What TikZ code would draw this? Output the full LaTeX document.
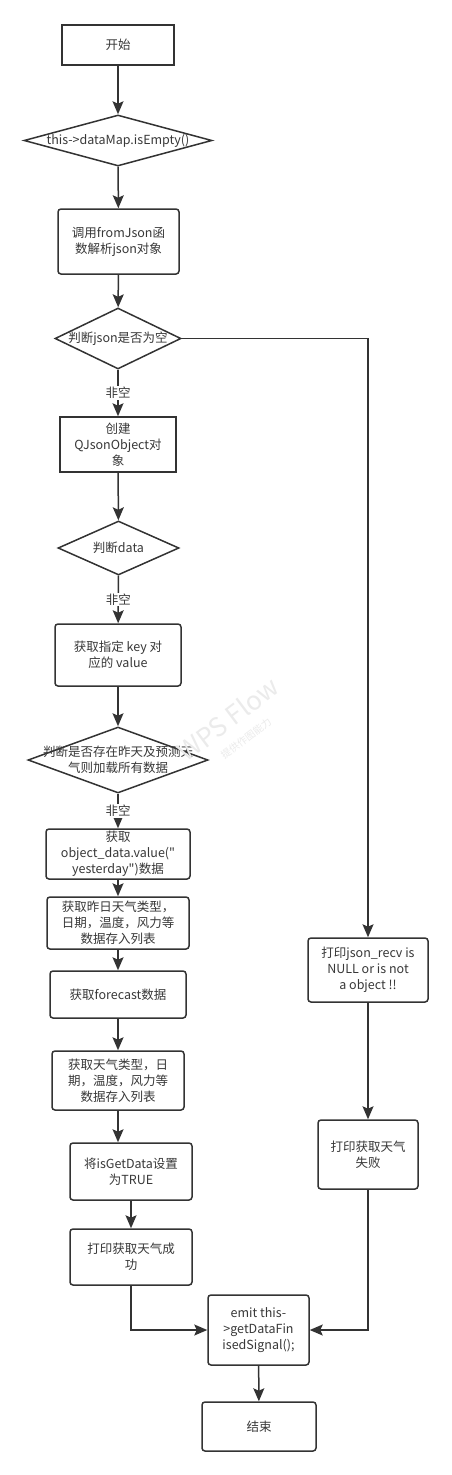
\documentclass[tikz,border=0pt]{standalone}
\usepackage{fontspec}
\newfontfamily\mf{Noto Sans CJK SC}
\setmainfont{Noto Sans CJK SC}
\usetikzlibrary{shapes.geometric,arrows.meta,positioning}
\definecolor{ln}{HTML}{333333}
\definecolor{tx}{HTML}{383838}
\tikzset{
  every node/.style={font=\mf\fontsize{12.5pt}{16pt}\selectfont, text=tx},
  proc/.style={draw=ln, line width=1.5pt, rounded corners=3pt, fill=white, align=center, inner sep=0pt},
  sharpbox/.style={draw=ln, line width=1.5pt, fill=white, align=center, inner sep=0pt},
  decide/.style={draw=ln, line width=1.5pt, diamond, fill=white, inner sep=0pt},
  dtext/.style={align=center, inner sep=0pt},
  flow/.style={draw=ln, line width=1.5pt, -{Stealth[length=13pt,width=11pt,inset=2.5pt]}},
  edgelabel/.style={fill=white, inner sep=1pt},
  wm/.style={text=black!8, rotate=37, inner sep=0pt}
}
\begin{document}
\begin{tikzpicture}[x=1pt,y=-1pt]
\useasboundingbox (0,0) rectangle (452,1475);
\fill[white] (0,0) rectangle (452,1475);

% main column
\node[sharpbox, minimum width=112pt, minimum height=40pt] (start) at (118,45) {开始};
\node[decide, minimum width=188pt, minimum height=51pt] (d1) at (118,140.5) {};
\node[dtext] (d1t) at (d1.center) {this->dataMap.isEmpty()};
\node[proc, minimum width=121pt, minimum height=65pt] (b1) at (118.5,241.5) {调用fromJson函\\数解析json对象};
\node[decide, minimum width=126pt, minimum height=61pt] (d2) at (118,338.5) {};
\node[dtext] (d2t) at (d2.center) {判断json是否为空};
\node[sharpbox, minimum width=116pt, minimum height=55pt] (b2) at (118,444.5) {创建\\QJsonObject对\\象};
\node[decide, minimum width=121pt, minimum height=54pt] (d3) at (118.5,548) {};
\node[dtext] (d3t) at (d3.center) {判断data};
\node[proc, minimum width=126pt, minimum height=62pt] (b3) at (118,655) {获取指定 key 对\\应的 value};
\node[decide, minimum width=180pt, minimum height=66pt] (d4) at (118,760) {};
\node[dtext] (d4t) at (d4.center) {判断是否存在昨天及预测天\\气则加载所有数据};
\node[proc, minimum width=144pt, minimum height=50pt] (b4) at (118,854) {获取\\object\_data.value("\\yesterday")数据};
\node[proc, minimum width=142pt, minimum height=52pt] (b5) at (118,923) {获取昨日天气类型，\\日期，温度，风力等\\数据存入列表};
\node[proc, minimum width=136pt, minimum height=47pt] (b6) at (118,994.5) {获取forecast数据};
\node[proc, minimum width=132pt, minimum height=59pt] (b7) at (118,1080.5) {获取天气类型，日\\期，温度，风力等\\数据存入列表};
\node[proc, minimum width=122pt, minimum height=57pt] (b8) at (131,1171.5) {将isGetData设置\\为TRUE};
\node[proc, minimum width=122pt, minimum height=56pt] (b9) at (131,1257) {打印获取天气成\\功};
\node[proc, minimum width=101pt, minimum height=70pt] (emit) at (258.5,1330) {emit this-\\>getDataFin\\isedSignal();};
\node[proc, minimum width=114pt, minimum height=49pt] (end) at (259,1426.5) {结束};

% right column
\node[proc, minimum width=120pt, minimum height=64pt] (r1) at (368,970) {打印json\_recv is\\NULL or is not\\a object !!};
\node[proc, minimum width=100pt, minimum height=69pt] (r2) at (368,1154.5) {打印获取天气\\失败};

% connectors
\draw[flow] (start) -- (d1);
\draw[flow] (d1) -- (b1);
\draw[flow] (b1) -- (d2);
\draw[flow] (d2) -- node[edgelabel] (l1) {非空} (b2);
\draw[flow] (b2) -- (d3);
\draw[flow] (d3) -- node[edgelabel] (l2) {非空} (b3);
\draw[flow] (b3) -- (d4);
\draw[flow] (d4) -- node[edgelabel] (l3) {非空} (b4);
\draw[flow] (b4) -- (b5);
\draw[flow] (b5) -- (b6);
\draw[flow] (b6) -- (b7);
\draw[flow] (b7.south) -- (b7.south |- b8.north);
\draw[flow] (b8) -- (b9);
\draw[flow] (b9.south) |- (emit.west);
\draw[flow] (d2.east) -| (r1.north);
\draw[flow] (r1) -- (r2);
\draw[flow] (r2.south) |- (emit.east);
\draw[flow] (emit) -- (end);

% watermark
\node[wm, font=\mf\fontsize{26pt}{26pt}\selectfont] (wm1) at (228,719) {WPS Flow};
\node[wm, font=\mf\fontsize{10pt}{10pt}\selectfont] (wm2) at (246,738) {提供作图能力};
\end{tikzpicture}
\end{document}
